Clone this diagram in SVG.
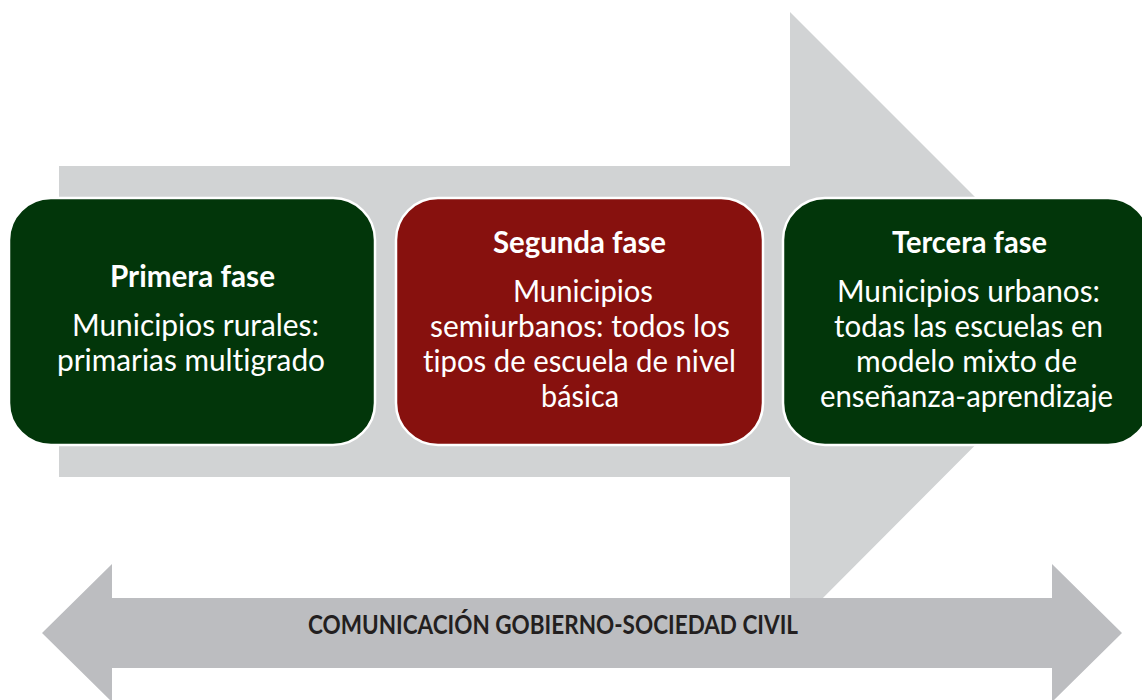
<svg xmlns="http://www.w3.org/2000/svg" width="1142" height="700" viewBox="0 0 1142 700">
<style>
.box{stroke:#ffffff;stroke-width:2.5}
.green{fill:#02360a}
.red{fill:#87110e}
text{font-variant-ligatures:none;font-feature-settings:"liga" 0,"clig" 0}
.t{font-family:Lato,"Open Sans",sans-serif;fill:#ffffff;text-anchor:start}
.h{font-size:31px;font-weight:bold}
.b{font-size:30px}
.c{font-family:Lato,"Open Sans",sans-serif;font-size:27px;font-weight:bold;fill:#231f20}
</style>
<rect width="1142" height="700" fill="#ffffff"/>
<g id="connectors">
<polygon id="big-arrow" points="59,166 790,166 790,12 1099,321 790,631 790,477 59,477" fill="#d1d3d4"/>
<polygon id="comm-arrow" points="42,633 112,564 112,598 1052,598 1052,564 1122,633 1052,702 1052,668 112,668 112,702" fill="#bcbdc0"/>
</g>
<g id="node-primera">
<rect class="box green" x="9" y="198" width="366" height="247" rx="42" ry="42"/>
<text class="t h" x="110" y="287" textLength="165" lengthAdjust="spacingAndGlyphs">Primera fase</text>
<text class="t b" x="72" y="336" textLength="247" lengthAdjust="spacingAndGlyphs">Municipios rurales:</text>
<text class="t b" x="57" y="371" textLength="268" lengthAdjust="spacingAndGlyphs">primarias multigrado</text>
</g>
<g id="node-segunda">
<rect class="box red" x="396" y="198" width="367" height="247" rx="42" ry="42"/>
<text class="t h" x="493" y="253" textLength="173" lengthAdjust="spacingAndGlyphs">Segunda fase</text>
<text class="t b" x="513" y="302" textLength="140" lengthAdjust="spacingAndGlyphs">Municipios</text>
<text class="t b" x="430" y="337" textLength="300" lengthAdjust="spacingAndGlyphs">semiurbanos: todos los</text>
<text class="t b" x="423" y="372" textLength="313" lengthAdjust="spacingAndGlyphs">tipos de escuela de nivel</text>
<text class="t b" x="541" y="407" textLength="78" lengthAdjust="spacingAndGlyphs">básica</text>
</g>
<g id="node-tercera">
<rect class="box green" x="783" y="198" width="367" height="247" rx="42" ry="42"/>
<text class="t h" x="892" y="253" textLength="155" lengthAdjust="spacingAndGlyphs">Tercera fase</text>
<text class="t b" x="837" y="302" textLength="263" lengthAdjust="spacingAndGlyphs">Municipios urbanos:</text>
<text class="t b" x="834" y="337" textLength="269" lengthAdjust="spacingAndGlyphs">todas las escuelas en</text>
<text class="t b" x="856" y="372" textLength="221" lengthAdjust="spacingAndGlyphs">modelo mixto de</text>
<text class="t b" x="820" y="407" textLength="293" lengthAdjust="spacingAndGlyphs">enseñanza-aprendizaje</text>
</g>
<g id="label-comm">
<text class="c" x="308" y="634" textLength="490" lengthAdjust="spacingAndGlyphs">COMUNICACIÓN GOBIERNO-SOCIEDAD CIVIL</text>
</g>
</svg>
